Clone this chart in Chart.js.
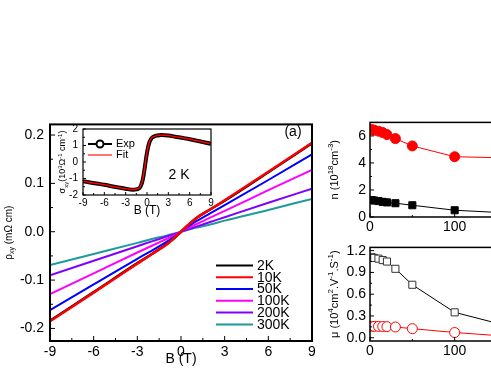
<!DOCTYPE html>
<html>
<head>
<meta charset="utf-8">
<script src="https://cdn.jsdelivr.net/npm/chart.js@4.4.1/dist/chart.umd.min.js"></script>
<style>
  html, body { margin: 0; padding: 0; background: #fff; }
  body { width: 491px; height: 382px; position: relative; overflow: hidden; }
  canvas { position: absolute; }
</style>
</head>
<body>
<canvas id="main" width="330" height="262" style="left:0;top:110px"></canvas>
<canvas id="inset" width="165" height="100" style="left:55px;top:118px"></canvas>
<canvas id="nPanel" width="320" height="125" style="left:320px;top:110px"></canvas>
<canvas id="muPanel" width="320" height="130" style="left:320px;top:235px"></canvas>
<script>
// ---- main panel: Hall resistivity vs field ----
const bField = [-9, -6, -3, -2, -1, -0.5, 0, 0.5, 1, 2, 3, 6, 9];
const rho2K   = [-0.184, -0.125, -0.065, -0.046, -0.026, -0.014, 0, 0.014, 0.027, 0.046, 0.064, 0.123, 0.183];
const rho10K  = [-0.185, -0.126, -0.066, -0.046, -0.027, -0.014, 0, 0.014, 0.027, 0.046, 0.065, 0.124, 0.184];
const rho50K  = [-0.162, -0.109, -0.056, -0.039, -0.021, -0.011, 0, 0.011, 0.021, 0.038, 0.055, 0.107, 0.160];
const rho100K = [-0.129, -0.086, -0.043, -0.029, -0.015, -0.008, 0, 0.008, 0.015, 0.029, 0.043, 0.086, 0.128];
const rho200K = [-0.090, -0.060, -0.030, -0.020, -0.010, -0.005, 0, 0.005, 0.010, 0.020, 0.030, 0.060, 0.089];
const rho300K = [-0.069, -0.046, -0.023, -0.015, -0.008, -0.004, 0, 0.004, 0.008, 0.015, 0.023, 0.045, 0.068];
const tempLabels = ['2K', '10K', '50K', '100K', '200K', '300K'];
const tempColors = ['#000000', '#ff0000', '#0000ff', '#ff00ff', '#8000ff', '#1f9a9a'];
const rhoTicks = [-0.2, -0.1, 0, 0.1, 0.2];
const bTicks = [-9, -6, -3, 0, 3, 6, 9];

// ---- inset: Hall conductivity at 2 K ----
const insetB   = [-9, -6, -4, -3, -2, -1.5, -1, -0.7, -0.5, -0.3, -0.1, 0.1, 0.3, 0.6, 1, 1.5, 2, 3, 4, 6, 9];
const sigmaExp = [-1.17, -1.38, -1.55, -1.62, -1.68, -1.66, -1.55, -1.25, -0.85, -0.3, 0.3, 0.8, 1.15, 1.42, 1.55, 1.61, 1.63, 1.6, 1.53, 1.38, 1.1];
const sigmaFit = [-1.17, -1.38, -1.55, -1.62, -1.67, -1.65, -1.53, -1.22, -0.82, -0.28, 0.32, 0.82, 1.17, 1.43, 1.55, 1.61, 1.63, 1.6, 1.53, 1.38, 1.1];
const sigmaTicks = [-2, -1, 0, 1, 2];

// ---- right panels: carrier density and mobility vs temperature ----
const temps  = [2, 5, 10, 15, 20, 30, 50, 100, 150];
const nRed   = [6.47, 6.42, 6.35, 6.25, 6.1, 5.8, 5.26, 4.46, 4.39];
const nBlack = [1.25, 1.22, 1.18, 1.12, 1.08, 1.02, 0.87, 0.5, 0.34];
const muBlack = [1.11, 1.10, 1.09, 1.07, 1.05, 0.95, 0.73, 0.35, 0.2];
const muRed   = [0.157, 0.157, 0.156, 0.155, 0.153, 0.148, 0.125, 0.072, 0.03];
const tTicks  = [0, 100, 200, 300];
const nTicks  = [0, 2, 4, 6];
const muTicks = [0, 0.3, 0.6, 0.9, 1.2];

const FONT = '"Liberation Sans", Arial, sans-serif';
Chart.defaults.font.family = FONT;
Chart.defaults.color = '#000';

const pts = (xs, ys) => xs.map((x, i) => ({ x: x, y: ys[i] }));
const fixTicks = list => scale => { scale.ticks = list.map(v => ({ value: v })); };
const mids = list => list.slice(1).map((v, i) => (v + list[i]) / 2);

function drawRich(ctx, parts, cx, cy, size, rotate) {
    ctx.save();
    ctx.translate(cx, cy);
    if (rotate) ctx.rotate(-Math.PI / 2);
    ctx.textBaseline = 'middle';
    ctx.fillStyle = '#000';
    const fontFor = p => (p.sub || p.sup ? Math.round(size * 0.7) : size) + 'px ' + FONT;
    let total = 0;
    parts.forEach(p => { ctx.font = fontFor(p); total += ctx.measureText(p.t).width; });
    let px = -total / 2;
    parts.forEach(p => {
        ctx.font = fontFor(p);
        const dy = p.sub ? size * 0.35 : p.sup ? -size * 0.35 : 0;
        ctx.fillText(p.t, px, dy);
        px += ctx.measureText(p.t).width;
    });
    ctx.restore();
}

// frame + inward ticks (Origin style)
const frameTicks = {
    id: 'frameTicks',
    afterDraw(chart, args, o) {
        const { ctx, chartArea: a, scales: { x, y } } = chart;
        ctx.save();
        ctx.strokeStyle = '#000';
        ctx.lineWidth = o.width || 1.5;
        ctx.strokeRect(a.left, a.top, a.right - a.left, a.bottom - a.top);
        ctx.lineWidth = 1;
        ctx.beginPath();
        const xt = (v, len) => { const p = x.getPixelForValue(v); ctx.moveTo(p, a.bottom); ctx.lineTo(p, a.bottom - len); };
        const yt = (v, len) => { const p = y.getPixelForValue(v); ctx.moveTo(a.left, p); ctx.lineTo(a.left + len, p); };
        x.ticks.forEach(t => xt(t.value, o.major));
        y.ticks.forEach(t => yt(t.value, o.major));
        mids(x.ticks.map(t => t.value)).forEach(v => xt(v, o.minor));
        mids(y.ticks.map(t => t.value)).forEach(v => yt(v, o.minor));
        ctx.stroke();
        ctx.restore();
    }
};

// rotated y titles with sub/superscripts
const richTitle = {
    id: 'richTitle',
    afterDraw(chart, args, o) {
        const a = chart.chartArea;
        drawRich(chart.ctx, o.parts, o.x, (a.top + a.bottom) / 2, o.size, true);
    }
};

// ---------------- main chart ----------------
const rhoSeries = [rho2K, rho10K, rho50K, rho100K, rho200K, rho300K];

new Chart(document.getElementById('main'), {
    type: 'line',
    data: {
        datasets: rhoSeries.map((s, i) => ({
            label: tempLabels[i],
            data: pts(bField, s),
            borderColor: tempColors[i],
            borderWidth: i < 2 ? 2.5 : 2,
            pointRadius: 0,
            cubicInterpolationMode: 'monotone',
            order: i === 0 ? 1 : 0
        }))
    },
    options: {
        responsive: false,
        animation: false,
        layout: { padding: { top: 12, right: 18 } },
        plugins: {
            legend: { display: false },
            tooltip: { enabled: false },
            frameTicks: { width: 2, major: 5, minor: 3 },
            richTitle: {
                x: 9, size: 10,
                parts: [{ t: 'ρ' }, { t: 'xy', sub: true }, { t: ' (mΩ cm)' }]
            }
        },
        scales: {
            x: {
                type: 'linear', min: -9, max: 9,
                afterBuildTicks: fixTicks(bTicks),
                afterFit: s => { s.height = 31; },
                grid: { display: false, drawTicks: false },
                border: { display: false },
                ticks: { font: { size: 14 }, padding: 3, maxRotation: 0 },
                title: { display: true, text: 'B (T)', font: { size: 14 }, padding: { top: 0, bottom: 4 } }
            },
            y: {
                type: 'linear', min: -0.226, max: 0.222,
                afterBuildTicks: fixTicks(rhoTicks),
                afterFit: s => { s.width = 50; },
                grid: { display: false, drawTicks: false },
                border: { display: false },
                ticks: { font: { size: 14 }, padding: 6, callback: v => v.toFixed(1) }
            }
        }
    },
    plugins: [frameTicks, richTitle, {
        id: 'mainLabels',
        afterDraw(chart) {
            const { ctx, chartArea: a } = chart;
            ctx.save();
            ctx.font = '14px ' + FONT;
            ctx.fillStyle = '#000';
            ctx.textBaseline = 'middle';
            ctx.textAlign = 'center';
            ctx.fillText('(a)', a.right - 19, a.top + 8);
            ctx.textAlign = 'left';
            chart.data.datasets.forEach((ds, i) => {
                const y = a.top + 141 + i * 11.8;
                const x0 = a.left + 166;
                ctx.strokeStyle = ds.borderColor;
                ctx.lineWidth = 2;
                ctx.beginPath();
                ctx.moveTo(x0, y);
                ctx.lineTo(x0 + 37, y);
                ctx.stroke();
                ctx.fillText(ds.label, x0 + 41, y + 0.5);
            });
            ctx.restore();
        }
    }]
});

// ---------------- inset ----------------
new Chart(document.getElementById('inset'), {
    type: 'line',
    data: {
        datasets: [
            { label: 'Fit', data: pts(insetB, sigmaFit), borderColor: '#ff0000', borderWidth: 1.5,
              pointRadius: 0, cubicInterpolationMode: 'monotone', order: 0 },
            { label: 'Exp', data: pts(insetB, sigmaExp), borderColor: '#000000', borderWidth: 4,
              pointRadius: 0, cubicInterpolationMode: 'monotone', order: 1 }
        ]
    },
    options: {
        responsive: false,
        animation: false,
        layout: { padding: { top: 5, right: 9 } },
        plugins: {
            legend: { display: false },
            tooltip: { enabled: false },
            frameTicks: { width: 1.2, major: 3, minor: 2 },
            richTitle: {
                x: 8, size: 9,
                parts: [{ t: 'σ' }, { t: 'xy', sub: true }, { t: '(10' }, { t: '3', sup: true },
                        { t: 'Ω' }, { t: '-1', sup: true }, { t: ' cm' }, { t: '-1', sup: true }, { t: ')' }]
            }
        },
        scales: {
            x: {
                type: 'linear', min: -9, max: 9,
                afterBuildTicks: fixTicks(bTicks),
                afterFit: s => { s.height = 23; },
                grid: { display: false, drawTicks: false },
                border: { display: false },
                ticks: { font: { size: 10 }, padding: 2, maxRotation: 0 },
                title: { display: true, text: 'B (T)', font: { size: 12 }, padding: 0 }
            },
            y: {
                type: 'linear', min: -2, max: 2,
                afterBuildTicks: fixTicks(sigmaTicks),
                afterFit: s => { s.width = 28; },
                grid: { display: false, drawTicks: false },
                border: { display: false },
                ticks: { font: { size: 10 }, padding: 5 }
            }
        }
    },
    plugins: [frameTicks, richTitle, {
        id: 'insetLabels',
        afterDraw(chart) {
            const { ctx, chartArea: a } = chart;
            ctx.save();
            ctx.textBaseline = 'middle';
            ctx.fillStyle = '#000';
            // Exp
            ctx.strokeStyle = '#000';
            ctx.lineWidth = 2;
            ctx.beginPath();
            ctx.moveTo(a.left + 5, a.top + 15);
            ctx.lineTo(a.left + 29, a.top + 15);
            ctx.stroke();
            ctx.beginPath();
            ctx.arc(a.left + 17, a.top + 15, 3.5, 0, Math.PI * 2);
            ctx.fillStyle = '#fff';
            ctx.fill();
            ctx.stroke();
            // Fit
            ctx.strokeStyle = 'rgba(255,0,0,0.55)';
            ctx.lineWidth = 2;
            ctx.beginPath();
            ctx.moveTo(a.left + 5, a.top + 26);
            ctx.lineTo(a.left + 29, a.top + 26);
            ctx.stroke();
            ctx.fillStyle = '#000';
            ctx.font = '11px ' + FONT;
            ctx.fillText('Exp', a.left + 33, a.top + 15);
            ctx.fillText('Fit', a.left + 33, a.top + 26);
            ctx.font = '14px ' + FONT;
            ctx.textAlign = 'center';
            ctx.fillText('2 K', a.left + 96, a.top + 46);
            ctx.restore();
        }
    }]
});

// ---------------- right panels ----------------
function sidePanel(id, datasets, yMin, yMax, yTicks, yFmt, axisH, padTop, title) {
    return new Chart(document.getElementById(id), {
        type: 'line',
        data: { datasets: datasets },
        options: {
            responsive: false,
            animation: false,
            layout: { padding: { top: padTop, right: 16 } },
            plugins: {
                legend: { display: false },
                tooltip: { enabled: false },
                frameTicks: { width: 1.5, major: 4, minor: 2 },
                richTitle: { x: 15, size: 11, parts: title }
            },
            scales: {
                x: {
                    type: 'linear', min: 0, max: 300,
                    afterBuildTicks: fixTicks(tTicks),
                    afterFit: s => { s.height = axisH; },
                    grid: { display: false, drawTicks: false },
                    border: { display: false },
                    ticks: { font: { size: 14 }, padding: 2, maxRotation: 0 }
                },
                y: {
                    type: 'linear', min: yMin, max: yMax,
                    afterBuildTicks: fixTicks(yTicks),
                    afterFit: s => { s.width = 50; },
                    grid: { display: false, drawTicks: false },
                    border: { display: false },
                    ticks: { font: { size: 14 }, padding: 4, callback: yFmt }
                }
            }
        },
        plugins: [frameTicks, richTitle]
    });
}

sidePanel('nPanel', [
    { data: pts(temps, nRed), borderColor: '#ff0000', backgroundColor: '#ff0000', borderWidth: 1,
      pointStyle: 'circle', pointRadius: 5 },
    { data: pts(temps, nBlack), borderColor: '#000000', backgroundColor: '#000000', borderWidth: 1,
      pointStyle: 'rect', pointRadius: 5 }
], 0, 7, nTicks, v => String(v), 18, 12,
    [{ t: 'n (10' }, { t: '18', sup: true }, { t: 'cm' }, { t: '-3', sup: true }, { t: ')' }]);

sidePanel('muPanel', [
    { data: pts(temps, muBlack), borderColor: '#000000', backgroundColor: '#ffffff', pointBorderColor: '#333333',
      borderWidth: 1, pointStyle: 'rect', pointRadius: 5 },
    { data: pts(temps, muRed), borderColor: '#ff0000', backgroundColor: '#ffffff', borderWidth: 1,
      pointStyle: 'circle', pointRadius: 5 }
], -0.045, 1.245, muTicks, v => v.toFixed(1), 24, 10,
    [{ t: 'μ (10' }, { t: '4', sup: true }, { t: 'cm' }, { t: '2', sup: true }, { t: '.V' },
     { t: '-1', sup: true }, { t: '.S' }, { t: '-1', sup: true }, { t: ')' }]);
</script>
</body>
</html>
